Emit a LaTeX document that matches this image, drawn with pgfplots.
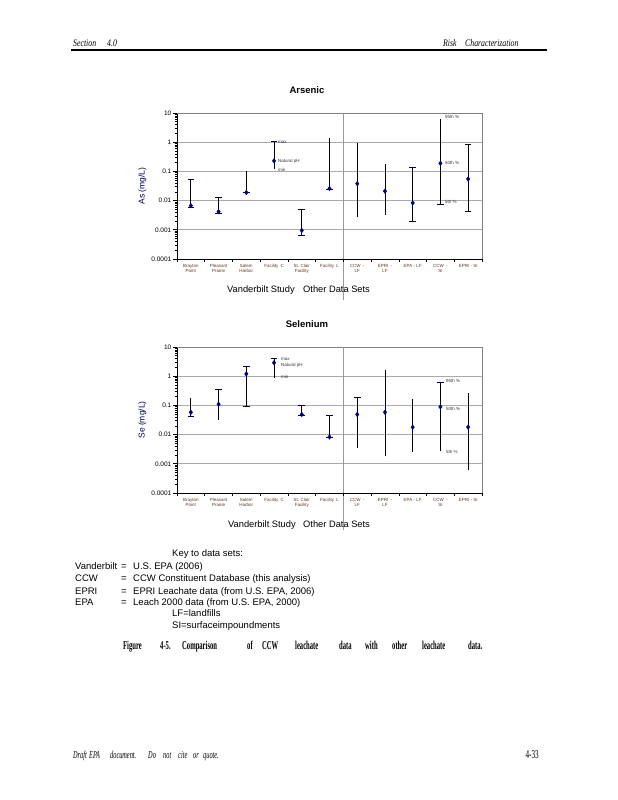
\documentclass[border=0pt]{standalone}
\usepackage{fontspec}
\setmainfont{Liberation Sans}
\newfontfamily\capfont[FakeStretch=0.55]{Liberation Serif}
\newfontfamily\footfont[FakeStretch=0.6]{Liberation Serif}
\newfontfamily\headfont[FakeStretch=0.78]{Liberation Serif}
\usepackage{pgfplots}
\pgfplotsset{compat=1.18}
\definecolor{navyd}{RGB}{0,0,128}
\definecolor{tickbrown}{RGB}{95,55,35}
\definecolor{gridg}{RGB}{170,170,170}

\begin{document}
\begin{tikzpicture}
\path[use as bounding box] (0pt,0pt) rectangle (618pt,800pt);

% header
\begin{scope}[every node/.style={anchor=base west, inner sep=0, font=\headfont\itshape\fontsize{10}{11}\selectfont}]
\node at (73pt,753.5pt) {Section};
\node at (107pt,753.5pt) {4.0};
\node at (443pt,753.5pt) {Risk};
\node at (465pt,753.5pt) {Characterization};
\end{scope}
\draw[line width=1.2pt] (71pt,750pt) -- (547pt,750pt);

% ---------- Arsenic ----------
\begin{axis}[at={(177pt,541pt)}, anchor=south west,
  scale only axis, width=305pt, height=146pt,
  xmin=0, xmax=11, ymode=log, ymin=0.0001, ymax=10,
  axis x line*=bottom, axis y line*=left,
  axis line style={-, black, line width=0.8pt},
  ymajorgrids, grid style={gridg, line width=0.6pt},
  xtick={0.5,1.5,2.5,3.5,4.5,5.5,6.5,7.5,8.5,9.5,10.5},
  xticklabels={Brayton\\Point, Pleasant\\Prairie, Salem\\Harbor, Facility\enspace C, St. Clair\\Facility, Facility\enspace L, CCW\enspace -\\LF, EPRI\enspace -\\LF, EPA - LF, CCW\enspace -\\SI, EPRI - SI},
  xtick style={draw=none},
  tick align=outside,
  ytick={0.0001,0.001,0.01,0.1,1,10},
  yticklabels={0.0001,0.001,0.01,0.1,1,10},
  minor ytick={0.0002,0.0003,0.0004,0.0005,0.0006,0.0007,0.0008,0.0009,0.002,0.003,0.004,0.005,0.006,0.007,0.008,0.009,0.02,0.03,0.04,0.05,0.06,0.07,0.08,0.09,0.2,0.3,0.4,0.5,0.6,0.7,0.8,0.9,2,3,4,5,6,7,8,9},
  major tick length=4pt, minor tick length=2.5pt,
  ytick style={black, line width=0.6pt},
  xticklabel style={font=\fontsize{4.5}{5.5}\selectfont, align=center, text=tickbrown, anchor=north, inner sep=1pt},
  yticklabel style={font=\fontsize{6.5}{7}\selectfont, inner sep=1.5pt},
  ylabel style={font=\fontsize{8.5}{9}\selectfont, text=navyd!70!black},
  title style={at={(0.426,1)}, anchor=south, yshift=10pt, font=\bfseries\fontsize{9.5}{10}\selectfont},
  clip=false,
  title={Arsenic}, ylabel={As (mg/L)}]
\draw[gray, line width=0.8pt] (rel axis cs:0,1) -- (rel axis cs:1,1) -- (rel axis cs:1,0);
\draw[gray!80, line width=0.8pt] (axis cs:6,10) -- (axis cs:6,0.0001) -- ++(0pt,-41pt);
\pgfplotsinvokeforeach{0,1,2,3,4,5,6,7,8,9,10,11}{\draw[black, line width=0.6pt] (axis cs:#1,0.0001) -- ++(0pt,-3pt);}
% whiskers: min (or 5th %) to max (or 95th %)
\addplot[black, line width=0.9pt] coordinates {(0.5,0.0056)(0.5,0.051)};
\addplot[black, line width=0.9pt] coordinates {(1.5,0.0035)(1.5,0.013)};
\addplot[black, line width=0.9pt] coordinates {(2.5,0.019)(2.5,0.107)};
\addplot[black, line width=0.9pt] coordinates {(3.5,0.12)(3.5,1.07)};
\addplot[black, line width=0.9pt] coordinates {(4.5,0.00066)(4.5,0.0049)};
\addplot[black, line width=0.9pt] coordinates {(5.5,0.025)(5.5,1.38)};
\addplot[black, line width=0.9pt] coordinates {(6.5,0.0027)(6.5,0.94)};
\addplot[black, line width=0.9pt] coordinates {(7.5,0.0032)(7.5,0.18)};
\addplot[black, line width=0.9pt] coordinates {(8.5,0.002)(8.5,0.138)};
\addplot[black, line width=0.9pt] coordinates {(9.5,0.0076)(9.5,6.4)};
\addplot[black, line width=0.9pt] coordinates {(10.5,0.0044)(10.5,0.87)};
% caps
\addplot[only marks, mark=-, mark size=3.3pt, mark options={line width=0.9pt, draw=navyd!60!black}] coordinates {(0.5,0.051)(0.5,0.0056)(1.5,0.013)(1.5,0.0035)(2.5,0.019)(3.5,1.07)(4.5,0.0049)(4.5,0.00066)(5.5,0.025)(8.5,0.138)(8.5,0.002)(9.5,0.0076)(10.5,0.87)(10.5,0.0044)};
% medians / natural pH values
\addplot[only marks, mark=diamond*, mark size=2.3pt, mark options={fill=navyd, draw=navyd}] coordinates {(0.5,0.0067)(1.5,0.0042)(2.5,0.019)(3.5,0.23)(4.5,0.00095)(5.5,0.026)(6.5,0.038)(7.5,0.021)(8.5,0.0083)(9.5,0.19)(10.5,0.055)};
\end{axis}
\begin{scope}[every node/.style={anchor=base west, inner sep=0, font=\fontsize{4.5}{5}\selectfont, text=black!80}]
\node at (278pt,656.4pt) {max};
\node at (278pt,637.4pt) {Natural pH};
\node at (278pt,628.4pt) {min};
\node at (445pt,681.4pt) {95th \%};
\node at (445pt,635.4pt) {50th \%};
\node at (445pt,596.4pt) {5th \%};
\end{scope}
\node[anchor=base west, inner sep=0, font=\fontsize{9.3}{10}\selectfont] at (227pt,507.7pt) {Vanderbilt Study};
\node[anchor=base west, inner sep=0, font=\fontsize{9.3}{10}\selectfont] at (303pt,507.7pt) {Other Data Sets};

% ---------- Selenium ----------
\begin{axis}[at={(177pt,307pt)}, anchor=south west,
  scale only axis, width=305pt, height=146pt,
  xmin=0, xmax=11, ymode=log, ymin=0.0001, ymax=10,
  axis x line*=bottom, axis y line*=left,
  axis line style={-, black, line width=0.8pt},
  ymajorgrids, grid style={gridg, line width=0.6pt},
  xtick={0.5,1.5,2.5,3.5,4.5,5.5,6.5,7.5,8.5,9.5,10.5},
  xticklabels={Brayton\\Point, Pleasant\\Prairie, Salem\\Harbor, Facility\enspace C, St. Clair\\Facility, Facility\enspace L, CCW\enspace -\\LF, EPRI\enspace -\\LF, EPA - LF, CCW\enspace -\\SI, EPRI - SI},
  xtick style={draw=none},
  tick align=outside,
  ytick={0.0001,0.001,0.01,0.1,1,10},
  yticklabels={0.0001,0.001,0.01,0.1,1,10},
  minor ytick={0.0002,0.0003,0.0004,0.0005,0.0006,0.0007,0.0008,0.0009,0.002,0.003,0.004,0.005,0.006,0.007,0.008,0.009,0.02,0.03,0.04,0.05,0.06,0.07,0.08,0.09,0.2,0.3,0.4,0.5,0.6,0.7,0.8,0.9,2,3,4,5,6,7,8,9},
  major tick length=4pt, minor tick length=2.5pt,
  ytick style={black, line width=0.6pt},
  xticklabel style={font=\fontsize{4.5}{5.5}\selectfont, align=center, text=tickbrown, anchor=north, inner sep=1pt},
  yticklabel style={font=\fontsize{6.5}{7}\selectfont, inner sep=1.5pt},
  ylabel style={font=\fontsize{8.5}{9}\selectfont, text=navyd!70!black},
  title style={at={(0.426,1)}, anchor=south, yshift=10pt, font=\bfseries\fontsize{9.5}{10}\selectfont},
  clip=false,
  title={Selenium}, ylabel={Se (mg/L)}]
\draw[gray, line width=0.8pt] (rel axis cs:0,1) -- (rel axis cs:1,1) -- (rel axis cs:1,0);
\draw[gray!80, line width=0.8pt] (axis cs:6,10) -- (axis cs:6,0.0001) -- ++(0pt,-37pt);
\pgfplotsinvokeforeach{0,1,2,3,4,5,6,7,8,9,10,11}{\draw[black, line width=0.6pt] (axis cs:#1,0.0001) -- ++(0pt,-3pt);}
\addplot[black, line width=0.9pt] coordinates {(0.5,0.042)(0.5,0.18)};
\addplot[black, line width=0.9pt] coordinates {(1.5,0.032)(1.5,0.36)};
\addplot[black, line width=0.9pt] coordinates {(2.5,0.095)(2.5,2.1)};
\addplot[black, line width=0.9pt] coordinates {(3.5,0.89)(3.5,3.9)};
\addplot[black, line width=0.9pt] coordinates {(4.5,0.047)(4.5,0.1)};
\addplot[black, line width=0.9pt] coordinates {(5.5,0.0081)(5.5,0.046)};
\addplot[black, line width=0.9pt] coordinates {(6.5,0.0034)(6.5,0.19)};
\addplot[black, line width=0.9pt] coordinates {(7.5,0.0018)(7.5,1.6)};
\addplot[black, line width=0.9pt] coordinates {(8.5,0.0025)(8.5,0.17)};
\addplot[black, line width=0.9pt] coordinates {(9.5,0.0027)(9.5,0.59)};
\addplot[black, line width=0.9pt] coordinates {(10.5,0.0006)(10.5,0.27)};
\addplot[only marks, mark=-, mark size=3.3pt, mark options={line width=0.9pt, draw=navyd!60!black}] coordinates {(0.5,0.042)(1.5,0.36)(2.5,2.1)(2.5,0.095)(3.5,3.9)(4.5,0.1)(4.5,0.047)(5.5,0.046)(5.5,0.0081)(6.5,0.19)(9.5,0.59)};
\addplot[only marks, mark=diamond*, mark size=2.3pt, mark options={fill=navyd, draw=navyd}] coordinates {(0.5,0.058)(1.5,0.11)(2.5,1.2)(3.5,2.9)(4.5,0.049)(5.5,0.0083)(6.5,0.049)(7.5,0.058)(8.5,0.018)(9.5,0.089)(10.5,0.018)};
\end{axis}
\begin{scope}[every node/.style={anchor=base west, inner sep=0, font=\fontsize{4.5}{5}\selectfont, text=black!80}]
\node at (281pt,439.4pt) {max};
\node at (281pt,433.4pt) {Natural pH};
\node at (281pt,421.4pt) {min};
\node at (446pt,417.4pt) {95th \%};
\node at (446pt,389.4pt) {50th \%};
\node at (446pt,346.4pt) {5th \%};
\end{scope}
\node[anchor=base west, inner sep=0, font=\fontsize{9.3}{10}\selectfont] at (228pt,272.7pt) {Vanderbilt Study};
\node[anchor=base west, inner sep=0, font=\fontsize{9.3}{10}\selectfont] at (303pt,272.7pt) {Other Data Sets};

% ---------- key ----------
\begin{scope}[every node/.style={anchor=base west, inner sep=0, font=\fontsize{9.5}{10}\selectfont}]
\node at (172pt,243.6pt) {Key to data sets:};
\node at (75pt,230.9pt) {Vanderbilt};
\node at (121pt,230.9pt) {=};
\node at (133pt,230.9pt) {U.S. EPA (2006)};
\node at (75pt,218pt) {CCW};
\node at (121pt,218pt) {=};
\node at (133pt,218pt) {CCW Constituent Database (this analysis)};
\node at (75pt,205.6pt) {EPRI};
\node at (121pt,205.6pt) {=};
\node at (133pt,205.6pt) {EPRI Leachate data (from U.S. EPA, 2006)};
\node at (75pt,194.3pt) {EPA};
\node at (121pt,194.3pt) {=};
\node at (133pt,194.3pt) {Leach 2000 data (from U.S. EPA, 2000)};
\node at (172pt,183.3pt) {LF=landfills};
\node at (172pt,171.3pt) {SI=surfaceimpoundments};
\end{scope}

% caption
\begin{scope}[every node/.style={anchor=base west, inner sep=0, font=\capfont\bfseries\fontsize{12}{13}\selectfont}]
\node at (123pt,150pt) {Figure};
\node at (160pt,150pt) {4-5.};
\node at (182pt,150pt) {Comparison};
\node at (247pt,150pt) {of};
\node at (262pt,150pt) {CCW};
\node at (295pt,150pt) {leachate};
\node at (339pt,150pt) {data};
\node at (365pt,150pt) {with};
\node at (392pt,150pt) {other};
\node at (422pt,150pt) {leachate};
\node at (468pt,150pt) {data.};
\end{scope}

% footer
\begin{scope}[every node/.style={anchor=base west, inner sep=0, font=\footfont\itshape\fontsize{10.5}{11}\selectfont}]
\node at (73pt,41.5pt) {Draft};
\node at (89pt,41.5pt) {EPA};
\node at (110pt,41.5pt) {document.};
\node at (148pt,41.5pt) {Do};
\node at (163pt,41.5pt) {not};
\node at (178pt,41.5pt) {cite};
\node at (193pt,41.5pt) {or};
\node at (203pt,41.5pt) {quote.};
\end{scope}
\node[anchor=base east, inner sep=0, font=\footfont\fontsize{12}{13}\selectfont] at (539pt,41.5pt) {4-33};
\end{tikzpicture}
\end{document}
